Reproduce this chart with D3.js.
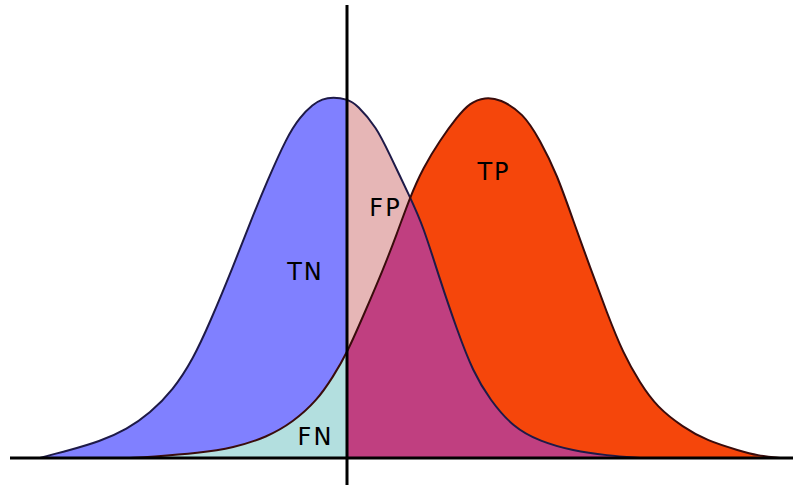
<!DOCTYPE html>
<html>
<head>
<meta charset="utf-8">
<script src="https://cdn.jsdelivr.net/npm/d3@7"></script>
<style>
  body { margin: 0; background: #fff; }
</style>
</head>
<body>
<div id="chart"></div>
<script>
// Negative class score distribution (score, density)
const negScores  = [-5.86, -5.66, -5.32, -4.66, -4.12, -3.66, -3.20, -2.80, -2.46, -2.00, -1.66, -1.32, -0.92, -0.66, -0.40, -0.22, 0, 0.28, 0.48, 0.88, 1.10, 1.54, 1.80, 2.14, 2.48, 2.80, 3.14, 3.60, 4.14, 4.80, 5.48, 6.14];
const negDensity = [0, 0.008, 0.020, 0.046, 0.080, 0.125, 0.189, 0.275, 0.378, 0.532, 0.655, 0.770, 0.895, 0.950, 0.985, 1.0, 1.005, 1.0, 0.985, 0.919, 0.855, 0.727, 0.648, 0.496, 0.357, 0.240, 0.162, 0.086, 0.046, 0.020, 0.007, 0];

// Positive class score distribution
const posScores  = [-4.06, -3.66, -2.66, -2.00, -1.32, -0.80, -0.32, 0, 0.28, 0.64, 1.00, 1.28, 1.54, 1.80, 2.14, 2.48, 2.74, 3.04, 3.34, 3.80, 4.14, 4.48, 4.80, 5.14, 5.48, 5.80, 6.14, 6.48, 7.00, 7.48, 8.14, 8.48, 8.94];
const posDensity = [0, 0.003, 0.014, 0.028, 0.058, 0.100, 0.160, 0.226, 0.292, 0.407, 0.524, 0.625, 0.727, 0.808, 0.885, 0.950, 0.990, 1.005, 1.0, 0.961, 0.886, 0.790, 0.663, 0.532, 0.404, 0.292, 0.209, 0.142, 0.086, 0.048, 0.020, 0.007, 0];

const threshold = 0.28;

// region labels
const labelText  = ["TN", "FP", "FN", "TP"];
const labelScore = [-0.55, 1.05, -0.35, 3.22];
const labelY     = [0.496, 0.674, 0.036, 0.774];

const width = 793, height = 486;

const svg = d3.select("#chart")
  .append("svg")
  .attr("width", width)
  .attr("height", height);

const x = d3.scaleLinear()
  .domain([-6.66, 9.2])
  .range([0, width]);

const y = d3.scaleLinear()
  .domain([0, 1])
  .range([458, 99]);

const neg = negScores.map((s, i) => ({s: s, d: negDensity[i]}));
const pos = posScores.map((s, i) => ({s: s, d: posDensity[i]}));

const area = d3.area()
  .x(d => x(d.s))
  .y0(y(0))
  .y1(d => y(d.d))
  .curve(d3.curveBasis);

const line = d3.line()
  .x(d => x(d.s))
  .y(d => y(d.d))
  .curve(d3.curveBasis);

const defs = svg.append("defs");

defs.append("clipPath").attr("id", "leftSide")
  .append("rect")
  .attr("x", 0).attr("y", 0)
  .attr("width", x(threshold)).attr("height", height);

defs.append("clipPath").attr("id", "rightSide")
  .append("rect")
  .attr("x", x(threshold)).attr("y", 0)
  .attr("width", width - x(threshold)).attr("height", height);

defs.append("clipPath").attr("id", "negArea")
  .append("path")
  .attr("d", area(neg));

// left of threshold: TN and FN
const left = svg.append("g").attr("clip-path", "url(#leftSide)");
left.append("path").attr("d", area(neg)).attr("fill", "#8080ff");
left.append("path").attr("d", area(pos)).attr("fill", "#b3dfdf");

// right of threshold: FP, TP and overlap
const right = svg.append("g").attr("clip-path", "url(#rightSide)");
right.append("path").attr("d", area(neg)).attr("fill", "#e6b6b6");
right.append("path").attr("d", area(pos)).attr("fill", "#f5460b");
right.append("g").attr("clip-path", "url(#negArea)")
  .append("path").attr("d", area(pos)).attr("fill", "#c03f80");

// outlines
svg.append("path")
  .attr("d", line(neg))
  .attr("fill", "none")
  .attr("stroke", "#1e1a48")
  .attr("stroke-width", 2);

svg.append("path")
  .attr("d", line(pos))
  .attr("fill", "none")
  .attr("stroke", "#3a0c0c")
  .attr("stroke-width", 2);

// baseline
svg.append("line")
  .attr("x1", 10).attr("x2", width)
  .attr("y1", y(0)).attr("y2", y(0))
  .attr("stroke", "#000")
  .attr("stroke-width", 3);

// threshold
svg.append("line")
  .attr("x1", x(threshold)).attr("x2", x(threshold))
  .attr("y1", 5).attr("y2", 485)
  .attr("stroke", "#000")
  .attr("stroke-width", 3);

labelText.forEach((t, i) => {
  svg.append("text")
    .attr("x", x(labelScore[i]))
    .attr("y", y(labelY[i]))
    .attr("text-anchor", "middle")
    .style("font-family", "DejaVu Sans, sans-serif")
    .style("font-size", "24px")
    .style("letter-spacing", "2px")
    .style("fill", "#000")
    .text(t);
});
</script>
</body>
</html>
